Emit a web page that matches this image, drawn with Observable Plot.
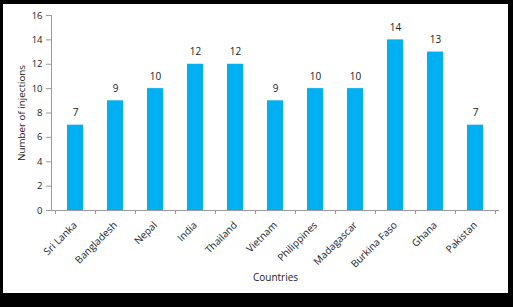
<!DOCTYPE html>
<html>
<head>
<meta charset="utf-8">
<script src="https://cdn.jsdelivr.net/npm/d3@7"></script>
<script src="https://cdn.jsdelivr.net/npm/@observablehq/plot@0.6"></script>
<style>
  html, body { margin: 0; padding: 0; background: #000; }
  body { width: 513px; height: 307px; position: relative; overflow: hidden; }
  #chart { position: absolute; left: 3px; top: 4px; width: 505px; height: 289px; background: #fff; }
  #chart svg { display: block; }
</style>
</head>
<body>
<div id="chart"></div>
<script>
const countries = ["Sri Lanka", "Bangladesh", "Nepal", "India", "Thailand", "Vietnam", "Philippines", "Madagascar", "Burkina Faso", "Ghana", "Pakistan"];
const injections = [7, 9, 10, 12, 12, 9, 10, 10, 14, 13, 7];
const yTicks = [0, 2, 4, 6, 8, 10, 12, 14, 16];
const xTitle = "Countries";
const yTitle = "Number of injections";

const data = countries.map((c, i) => ({country: c, value: injections[i]}));

const W = 505, H = 289;
const mL = 48, mR = 9, mT = 11, mB = 83;
const axisColor = "#9a9a9a";
const textColor = "#1a1a1a";
const font = "Open Sans, Liberation Sans, sans-serif";

const chart = Plot.plot({
  width: W,
  height: H,
  marginLeft: mL,
  marginRight: mR,
  marginTop: mT,
  marginBottom: mB,
  style: {fontFamily: font, fontSize: "9.5px", color: textColor, background: "#fff", overflow: "visible"},
  x: {domain: countries, paddingInner: 0.6, paddingOuter: 0.3, label: null},
  y: {domain: [0, 16], label: null},
  marks: [
    Plot.barY(data, {x: "country", y: "value", fill: "#00B0F0"}),
    Plot.text(data, {x: "country", y: "value", text: d => String(d.value), dy: -12, fontSize: 10, fill: textColor}),
    Plot.axisY({ticks: yTicks, tickSize: 5, tickPadding: 4, stroke: axisColor, fill: textColor, fontSize: 9.5, label: null}),
    Plot.axisX({tickSize: 0, tickPadding: 13, tickRotate: -45, fill: textColor, fontSize: 10, label: null}),
    Plot.ruleY([0], {stroke: axisColor}),
    Plot.text([yTitle], {frameAnchor: "left", textAnchor: "middle", lineAnchor: "middle", dx: -30, rotate: -90, fontSize: 9.8, fill: textColor}),
    Plot.text([xTitle], {frameAnchor: "bottom", textAnchor: "middle", lineAnchor: "middle", dy: 67, fontSize: 10, fill: textColor})
  ]
});

// y axis line and category-boundary ticks, placed with the plot's own scales
const xs = chart.scale("x");
const ys = chart.scale("y");
const svg = d3.select(chart);
const step = xs.step;
const gap = (step - xs.bandwidth) / 2;
const y0 = ys.apply(0);
const bounds = countries.map(c => xs.apply(c) - gap);
bounds.push(xs.apply(countries[countries.length - 1]) + xs.bandwidth + gap);
const g = svg.append("g").attr("stroke", axisColor).attr("stroke-width", 1);
g.append("line").attr("x1", mL + 0.5).attr("x2", mL + 0.5).attr("y1", ys.apply(16)).attr("y2", y0);
g.selectAll("line.t").data(bounds).join("line").attr("class", "t")
  .attr("x1", d => Math.round(d) + 0.5).attr("x2", d => Math.round(d) + 0.5)
  .attr("y1", y0).attr("y2", y0 + 4);

document.getElementById("chart").appendChild(chart);
</script>
</body>
</html>
